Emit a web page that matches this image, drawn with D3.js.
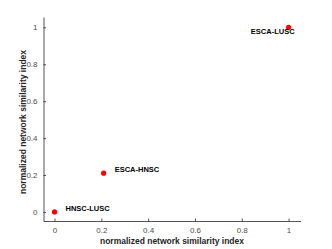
<!DOCTYPE html>
<html>
<head>
<meta charset="utf-8">
<script src="https://cdn.jsdelivr.net/npm/d3@7"></script>
<style>
  body { margin: 0; background: #fff; }
  svg { font-family: "Liberation Sans", Arial, sans-serif; }
</style>
</head>
<body>
<script>
var width = 332,
  height = 249;

// data
var pairs = ["HNSC-LUSC", "ESCA-HNSC", "ESCA-LUSC"];
var xValues = [0, 0.21, 1];
var yValues = [0, 0.21, 1];
var tickValues = [0, 0.2, 0.4, 0.6, 0.8, 1];

var svg = d3.select("body").append("svg")
  .attr("width", width)
  .attr("height", height);

var x = d3.scaleLinear().domain([-0.047, 1.051]).range([43.5, 300.5]);
var y = d3.scaleLinear().domain([-0.049, 1.056]).range([221, 17]);

var xAxis = svg.append("g")
  .attr("transform", "translate(0,221)")
  .call(d3.axisBottom(x).tickValues(tickValues).tickFormat(d3.format("")).tickSizeInner(-2.5).tickSizeOuter(0).tickPadding(6));

var yAxis = svg.append("g")
  .attr("transform", "translate(43.5,0)")
  .call(d3.axisLeft(y).tickValues(tickValues).tickFormat(d3.format("")).tickSizeInner(-2.5).tickSizeOuter(0).tickPadding(6));

[xAxis, yAxis].forEach(function(a) {
  a.select(".domain").attr("stroke", "#262626").attr("stroke-width", 0.8);
  a.selectAll(".tick line").attr("stroke", "#262626").attr("stroke-width", 0.8);
  a.selectAll(".tick text").attr("fill", "#4d4d4d").attr("font-size", 8);
});

svg.append("text")
  .attr("x", 172)
  .attr("y", 244)
  .attr("text-anchor", "middle")
  .attr("font-size", 8.5)
  .attr("font-weight", "bold")
  .attr("fill", "#262626")
  .text("normalized network similarity index");

svg.append("text")
  .attr("transform", "translate(26,122) rotate(-90)")
  .attr("text-anchor", "middle")
  .attr("font-size", 8.5)
  .attr("font-weight", "bold")
  .attr("fill", "#262626")
  .text("normalized network similarity index");

var idx = d3.range(pairs.length);

svg.selectAll("circle")
  .data(idx)
  .enter()
    .append("circle")
    .attr("cx", function(i) { return x(xValues[i]); })
    .attr("cy", function(i) { return y(yValues[i]); })
    .attr("r", 2.6)
    .attr("fill", "#ff0000");

// label offsets like matlab text() calls
var dx = [11, 11, 6];
var dy = [-1, -1, 7];
var anchor = ["start", "start", "end"];

svg.selectAll(".lbl")
  .data(idx)
  .enter()
    .append("text")
    .attr("class", "lbl")
    .attr("x", function(i) { return x(xValues[i]) + dx[i]; })
    .attr("y", function(i) { return y(yValues[i]) + dy[i]; })
    .attr("text-anchor", function(i) { return anchor[i]; })
    .attr("font-size", 7.5)
    .attr("font-weight", "bold")
    .attr("fill", "#000")
    .text(function(i) { return pairs[i]; });
</script>
</body>
</html>
